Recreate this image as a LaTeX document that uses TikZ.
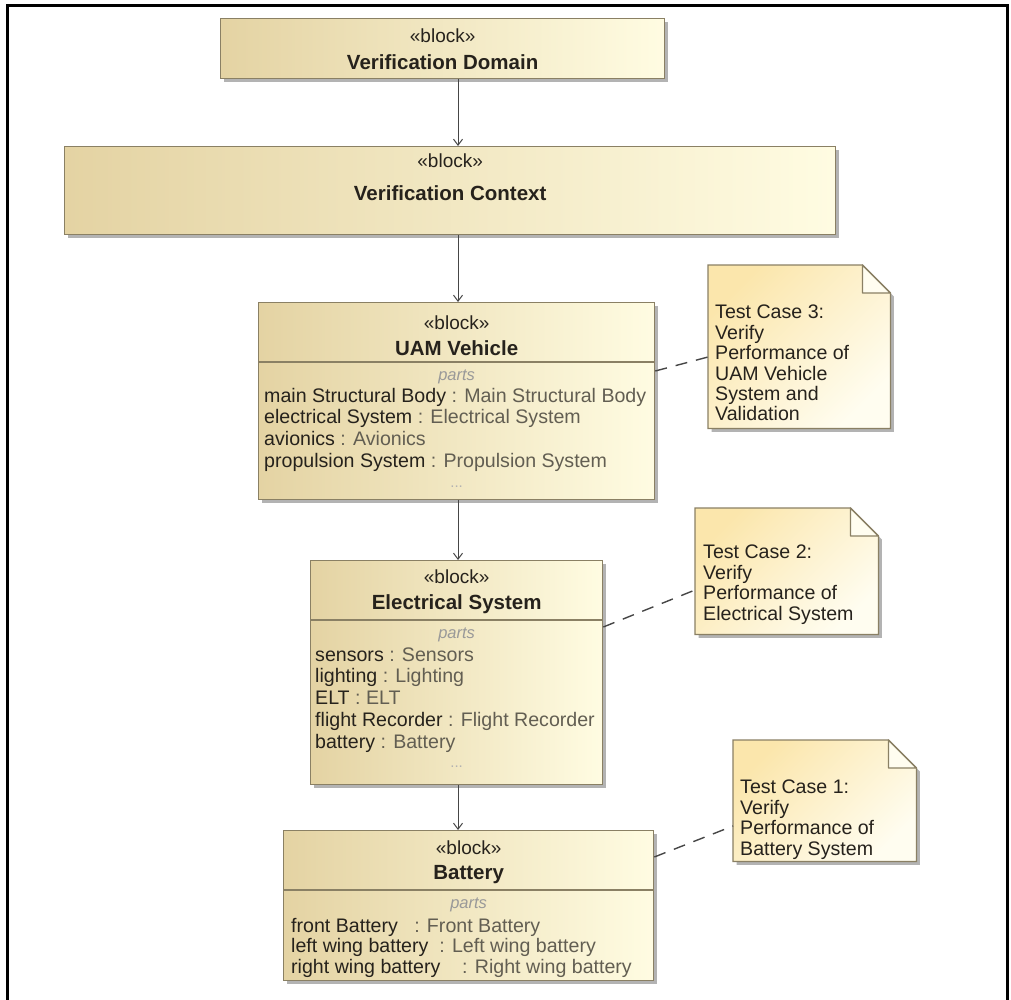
\documentclass[tikz,border=0pt]{standalone}
\usepackage{fontspec}
\setmainfont{Liberation Sans}
\usepackage{xcolor}
\usetikzlibrary{arrows.meta, positioning, shadows}

\definecolor{blockleft}{RGB}{228,211,163}
\definecolor{blockright}{RGB}{255,252,226}
\definecolor{blockline}{RGB}{138,128,100}
\definecolor{noteleft}{RGB}{251,230,172}
\definecolor{noteright}{RGB}{255,253,240}
\definecolor{typegrey}{RGB}{98,94,82}
\definecolor{inkdark}{RGB}{38,34,28}
\definecolor{linkgrey}{RGB}{70,70,70}

\tikzset{
  block/.style={draw=blockline, line width=1.3pt, left color=blockleft, right color=blockright,
    anchor=north west, inner sep=0pt,
    drop shadow={shadow xshift=3.5pt, shadow yshift=-3.5pt, fill=black!50, opacity=0.6}},
  stereo/.style={font=\fontsize{19}{21}\selectfont, text=inkdark, inner sep=0pt},
  blocktitle/.style={font=\fontsize{20.5}{22}\selectfont\bfseries, text=inkdark, inner sep=0pt},
  partshead/.style={font=\fontsize{16.5}{18}\selectfont\itshape, text=black!40, inner sep=0pt},
  item/.style={font=\fontsize{19.6}{21.5}\selectfont, text=inkdark, anchor=west, inner sep=0pt,
    text height=14pt, text depth=4pt},
  more/.style={font=\fontsize{15}{15}\selectfont, text=black!30, inner sep=0pt},
  note/.style={anchor=north west, inner sep=0pt},
  notebody/.style={draw=blockline, line width=1.3pt, left color=noteleft, right color=noteright,
    shading angle=45,
    drop shadow={shadow xshift=3.5pt, shadow yshift=-3.5pt, fill=black!50, opacity=0.6}},
  notetext/.style={font=\fontsize{19.6}{20.4}\selectfont, text=inkdark, align=left,
    anchor=north west, inner sep=0pt},
  assoc/.style={draw=linkgrey, line width=1pt, -{Straight Barb[length=6pt, width=9pt]}},
  anchorline/.style={draw=linkgrey, line width=1.4pt, dash pattern=on 12pt off 9pt},
}

\begin{document}
\begin{tikzpicture}[x=1pt, y=-1pt]
    \useasboundingbox (0,0) rectangle (1011,1000);
    % frame
    \draw[line width=3pt] (7,1000) -- (7,5.5) -- (1007,5.5) -- (1007,1000);

    % blocks
    \node (vd) [block, minimum width=444pt, minimum height=60pt] at (220,18) {};
    \node (vc) [block, minimum width=771pt, minimum height=88pt] at (64,146) {};
    \node (uam) [block, minimum width=396pt, minimum height=197pt] at (258,302) {};
    \node (elec) [block, minimum width=292pt, minimum height=224pt] at (310,560) {};
    \node (bat) [block, minimum width=370pt, minimum height=150pt] at (283,830) {};

    % headers
    \node (vd-st) [stereo] at ([yshift=-18pt]vd.north) {«block»};
    \node (vd-name) [blocktitle] at ([yshift=-44pt]vd.north) {Verification Domain};
    \node (vc-st) [stereo] at ([yshift=-15pt]vc.north) {«block»};
    \node (vc-name) [blocktitle] at ([yshift=-47pt]vc.north) {Verification Context};
    \node (uam-st) [stereo] at ([yshift=-21pt]uam.north) {«block»};
    \node (uam-name) [blocktitle] at ([yshift=-46pt]uam.north) {UAM Vehicle};
    \node (elec-st) [stereo] at ([yshift=-17pt]elec.north) {«block»};
    \node (elec-name) [blocktitle] at ([yshift=-44pt]elec.north) {Electrical System};
    \node (bat-st) [stereo] at ([yshift=-18pt]bat.north) {«block»};
    \node (bat-name) [blocktitle] at ([yshift=-45pt]bat.north) {Battery};

    % compartments
    \foreach \b in {uam, elec, bat}
        \draw[blockline, line width=1.3pt] ([yshift=-60pt]\b.north west) -- ([yshift=-60pt]\b.north east);
    \node (uam-parts) [partshead] at ([yshift=-75pt]uam.north) {parts};
    \node (elec-parts) [partshead] at ([yshift=-75pt]elec.north) {parts};
    \node (bat-parts) [partshead] at ([yshift=-75pt]bat.north) {parts};

    \foreach \pname/\ptype [count=\i] in {main Structural Body/Main Structural Body,
        electrical System/Electrical System, avionics/Avionics, propulsion System/Propulsion System}
        \node (uam-\i) [item] at ([xshift=6pt, yshift={-(95+21.8*(\i-1))*1pt}]uam.north west)
            {\pname\ \textcolor{typegrey}{: \ptype}};
    \foreach \pname/\ptype [count=\i] in {sensors/Sensors, lighting/Lighting, ELT/ELT,
        flight Recorder/Flight Recorder, battery/Battery}
        \node (elec-\i) [item] at ([xshift=5pt, yshift={-(96+21.8*(\i-1))*1pt}]elec.north west)
            {\pname\ \textcolor{typegrey}{: \ptype}};
    \foreach \pname/\ptype [count=\i] in {front Battery\ \ /Front Battery,
        left wing battery\ /Left wing battery, right wing battery\ \ \ /Right wing battery}
        \node (bat-\i) [item] at ([xshift=8pt, yshift={-(97+20.5*(\i-1))*1pt}]bat.north west)
            {\pname\ \textcolor{typegrey}{: \ptype}};
    \node (uam-more) [more] at ([yshift=-185pt]uam.north) {...};
    \node (elec-more) [more] at ([yshift=-207pt]elec.north) {...};

    % notes
    \node (tcthree) [note, minimum width=182pt, minimum height=163pt] at (708,265) {};
    \node (tctwo) [note, minimum width=183pt, minimum height=126pt] at (695,508) {};
    \node (tcone) [note, minimum width=183pt, minimum height=121pt] at (733,740) {};
    \foreach \n in {tcthree, tctwo, tcone} {
        \path[notebody] (\n.north west) -- ([xshift=-28pt]\n.north east)
            -- ([yshift=-28pt]\n.north east) |- (\n.south west) -- cycle;
        \filldraw[fill=noteright, draw=blockline, line width=1.3pt, line join=round]
            ([xshift=-28pt]\n.north east) |- ([yshift=-28pt]\n.north east) -- cycle;
    }
    \node (tcthree-txt) [notetext] at ([xshift=7pt, yshift=-40pt]tcthree.north west)
        {Test Case 3:\\Verify\\Performance of\\UAM Vehicle\\System and\\Validation};
    \node (tctwo-txt) [notetext] at ([xshift=8pt, yshift=-37pt]tctwo.north west)
        {Test Case 2:\\Verify\\Performance of\\Electrical System};
    \node (tcone-txt) [notetext] at ([xshift=7pt, yshift=-40pt]tcone.north west)
        {Test Case 1:\\Verify\\Performance of\\Battery System};

    % connectors
    \coordinate (spine) at (458,0);
    \draw[assoc] (vd.south -| spine) -- (vc.north -| spine);
    \draw[assoc] (vc.south -| spine) -- (uam.north -| spine);
    \draw[assoc] (uam.south -| spine) -- (elec.north -| spine);
    \draw[assoc] (elec.south -| spine) -- (bat.north -| spine);

    \draw[anchorline] ([yshift=-69pt]uam.north east) -- ([yshift=-92pt]tcthree.north west);
    \draw[anchorline] ([yshift=-67pt]elec.north east) -- ([yshift=-82pt]tctwo.north west);
    \draw[anchorline] ([yshift=-27pt]bat.north east) -- ([yshift=-86pt]tcone.north west);
\end{tikzpicture}
\end{document}
